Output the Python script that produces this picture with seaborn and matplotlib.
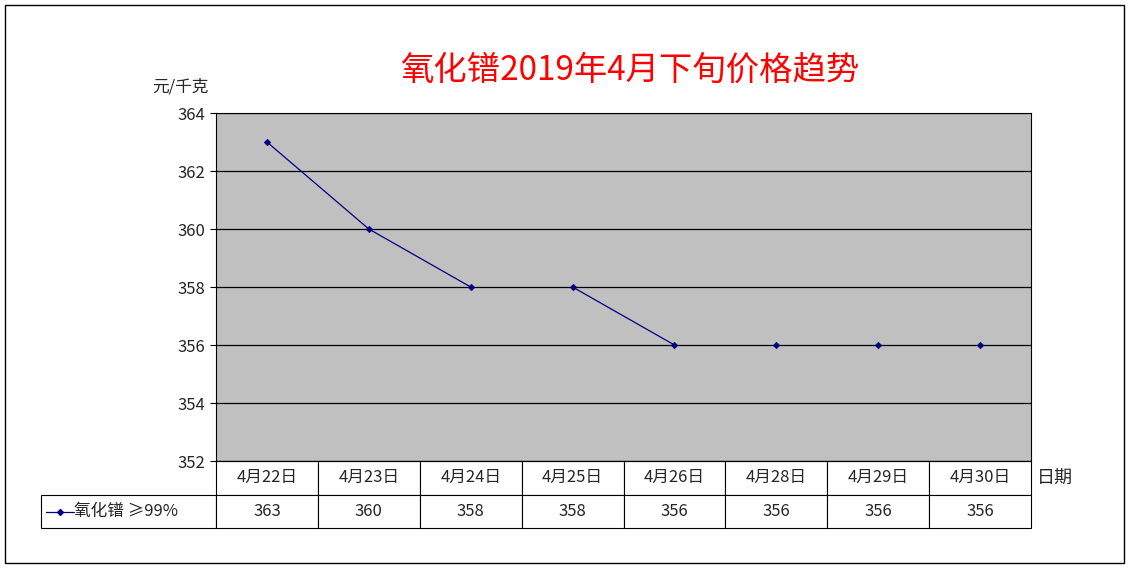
import matplotlib
matplotlib.use("Agg")
import matplotlib.pyplot as plt
from matplotlib.lines import Line2D
from matplotlib.patches import Rectangle
import seaborn as sns
import pandas as pd
import numpy as np

dates = ["4月22日", "4月23日", "4月24日", "4月25日", "4月26日", "4月28日", "4月29日", "4月30日"]
prices = [363, 360, 358, 358, 356, 356, 356, 356]
# the original only connects some neighbouring points
segments = [[0, 1, 2], [3, 4]]
series_name = "氧化镨 ≥99%"

sns.set_style("white")
plt.rcParams['font.family'] = ['Noto Sans CJK SC', 'DejaVu Sans']

fig = plt.figure(figsize=(11.3, 5.69), dpi=100)
ax = fig.add_axes([216 / 1130, 1 - 461 / 569, 815 / 1130, 348 / 569])
ax.set_facecolor("#c0c0c0")

df = pd.DataFrame({"x": np.arange(len(dates)), "price": prices})
for seg in segments:
    sns.lineplot(data=df.iloc[seg], x="x", y="price", ax=ax, color="#000080", lw=0.9)
sns.scatterplot(data=df, x="x", y="price", ax=ax, color="#000080", marker="D", s=12,
                edgecolor="#000080", zorder=5)

ax.set_xlim(-0.5, len(dates) - 0.5)
ax.set_ylim(352, 364)
ax.set_yticks(range(352, 365, 2))
ax.tick_params(axis="y", labelsize=12, length=4, left=True, color="black")
ax.set_xticks([])
ax.set_xlabel("")
ax.set_ylabel("")
ax.grid(axis="y", color="black", lw=0.9)
for s in ax.spines.values():
    s.set_color("black")
    s.set_linewidth(0.8)

# data table below the plot
cell_text = [[""] + dates, ["        " + series_name] + [str(p) for p in prices]]
w0 = 175 / 990
wc = (1 - w0) / len(dates)
tbl = ax.table(cellText=cell_text, colWidths=[w0] + [wc] * len(dates),
               bbox=[-175 / 815, -67 / 348, 990 / 815, 67 / 348], cellLoc="center")
tbl.auto_set_font_size(False)
for (r, c), cell in tbl.get_celld().items():
    cell.set_fontsize(12)
    cell.set_linewidth(0.8)
    cell.set_facecolor("white")
    if r == 0 and c == 0:
        cell.visible_edges = ""
    if r == 1 and c == 0:
        cell.get_text().set_ha("left")
        cell.PAD = 0.02

# legend key inside the table
fig.add_artist(Line2D([46 / 1130, 60 / 1130, 74 / 1130], [1 - 512 / 569] * 3, color="#000080",
                      lw=0.9, marker="D", markersize=3, markevery=[1]))

fig.text(1037 / 1130, 1 - 479 / 569, "日期", fontsize=13, va="center")
fig.text(152 / 1130, 1 - 87 / 569, "元/千克", fontsize=12, va="center")
fig.text(630 / 1130, 1 - 70 / 569, "氧化镨2019年4月下旬价格趋势", fontsize=24, color="red",
         ha="center", va="center")

fig.add_artist(Rectangle((5 / 1130, 1 - 563 / 569), 1119 / 1130, 558 / 569, fill=False,
                         edgecolor="black", lw=1, transform=fig.transFigure))

fig.savefig("out.png", dpi=100)
